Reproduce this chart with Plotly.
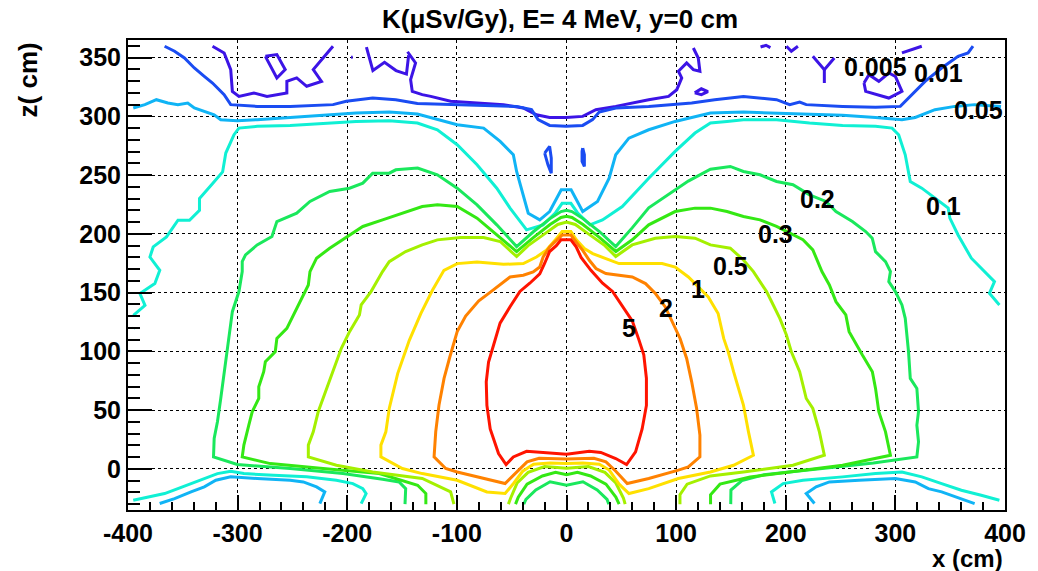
import plotly.graph_objects as go

# Contour levels of K (uSv/Gy) and their line colours
levels = [0.005, 0.01, 0.05, 0.1, 0.2, 0.3, 0.5, 1, 2, 5]
level_colors = ["#3c14e6", "#1a4cf2", "#10b4f5", "#10f0d4", "#1ae85c",
                "#34e814", "#a4f000", "#ffe000", "#ff8200", "#ff1400"]

# ---- contour paths, x (cm) / z (cm) ----
k5_x = [0, 4, 8.8, 13.3, 22.3, 32.9, 42, 51, 60, 66, 70.5, 72.9, 72.9, 69, 63, 54.8, 44.9, 31.3, 20.8, 0,
        -21.4, -36.4, -48.5, -55.1, -62, -69.6, -72.6, -73.2, -71.1, -65.1, -60.6, -51.5, -42.5, -33.5,
        -24.4, -19.9, -15.4, -9.3, -5, 0]
k5_z = [195, 195, 189, 180, 169, 158, 151, 138, 126, 110, 97, 77, 54, 34, 14.5, 3.7, 8.8, 14, 15, 12.5,
        14, 15, 10.2, 3.7, 13, 34, 54, 74, 91, 111, 124, 138, 151, 158, 166, 175, 185, 190, 195, 195]

k2_x = [0, 4, 8.8, 14.8, 20.8, 26.9, 35.9, 47.9, 60, 72.1, 81.1, 90.1, 97.6, 103.6, 109.6, 114.2, 118.7,
        121.7, 121.7, 111.1, 102.1, 75, 55.4, 45, 36, 25, 0, -25, -36, -45, -56, -99.7, -110.2, -120.8,
        -119.3, -116.3, -111.7, -106.5, -99.7, -92, -80, -70, -63.6, -51.5, -39.4, -30.4, -24.4, -21.3,
        -15.4, -9.3, -4, 0]
k2_z = [199, 199, 193.1, 186, 177.5, 170.5, 166.2, 164.8, 163.3, 157.7, 149.2, 137.8, 123.7, 111, 94,
        74.1, 51.4, 28.7, 10.2, 1.7, -1.1, -8.2, -12.5, -2, 6, 9, 8.5, 9, 6, -2, -12.5, -2.6, 0.3, 10.2,
        31.5, 54.3, 77, 95, 116.8, 130, 143, 150, 154.8, 163.3, 164.8, 167.6, 171.8, 180.3, 188.9, 194.6,
        199, 199]

k1_x = [0, -4, -9.3, -18.4, -27.4, -39.4, -57.5, -81.6, -99.7, -111.8, -122.3, -132.9, -143.4, -154,
        -161.7, -164.8, -169.3, -169.3, -149.7, -131.6, -99.7, -72.6, -56, -48, -40, -30, -15, 0, 15, 30,
        39, 48, 57, 75, 102, 131.3, 152.4, 170.5, 166, 161.4, 152.4, 147.4, 143.4, 138.3, 129.3, 120.3,
        111.2, 99.2, 87.2, 69.1, 47.9, 35.9, 23.9, 16.3, 9, 4, 0]
k1_z = [202, 202, 196, 186, 180.3, 174.7, 174.1, 176.1, 174.7, 169, 152, 132.2, 109.4, 81.1, 51.4, 31.5,
        20.2, 10.2, 0.3, -4, -9.7, -19.6, -21, -12, -2, 4, 5, 4.5, 5, 4, -1, -13, -21, -16.8, -8.2, -2.6,
        3.1, 11.6, 31.5, 54.3, 82.7, 100, 111, 132.2, 146.3, 154.8, 163.3, 171.8, 174.7, 174.7, 174.7,
        179, 183.2, 187.5, 195, 202, 202]

k05_x = [-102.7, -105.7, -131.6, -176.8, -209.9, -235.5, -235.5, -231, -226.5, -222, -205.4, -197.9,
         -188.9, -187.3, -178.3, -167.8, -161.7, -146.7, -131.6, -117.8, -96.7, -75.6, -60.5, -45.5, -35,
         -20, -8, 0, 8, 20, 35, 44.9, 59.9, 81, 99.1, 117.2, 131.3, 149.4, 161.4, 170.5, 182.5, 188.6,
         194.6, 200.6, 205.1, 212.7, 218.7, 224.7, 230.7, 235.2, 206.6, 161.4, 131.3, 110, 103.5, 103.5]
k05_z = [-30, -19.6, -8.2, -2.6, 3.1, 10.2, 20.2, 31.5, 48.6, 59.9, 102.6, 116.8, 131, 139.5, 150.9,
         167.9, 176.4, 185, 190.6, 194.9, 196.9, 196.9, 193.5, 180.7, 190, 200, 208, 210, 208, 200, 190,
         180.7, 190.6, 196.3, 197.7, 196.3, 190.6, 187.8, 177.8, 167.9, 150.9, 139.5, 128.1, 113.9, 99.7,
         82.7, 59.9, 51.4, 31.5, 11.6, 3.1, -2.6, -6, -13, -22, -30]
k05h_x = [-53, -51, -45, -35, -20, 0, 20, 35, 45, 52, 53.5]
k05h_z = [-30, -25, -12, -3, 2, 0.5, 2, -3, -12, -25, -30]

k03_x = [-128.3, -128.3, -135.8, -170.8, -222, -270.2, -295.8, -294.3, -289.8, -286.7, -280.7, -280.7,
         -276.2, -274.7, -265.7, -264.2, -255.1, -243.1, -235.5, -234, -228, -216, -197.9, -185.8, -167.8,
         -149.7, -131.6, -117.8, -99.7, -81.6, -63.6, -45.5, -30, -15, -5, 0, 5, 15, 30, 45, 60, 75, 99.1,
         117.2, 131.3, 146.4, 161.4, 176.5, 191.6, 203.6, 215.7, 224.7, 233, 239.8, 245.8, 254.8, 257.8,
         269.9, 279, 281.9, 284.9, 291, 295.5, 251.8, 206.6, 167.5, 140, 131.4, 131.4]
k03_z = [-30, -21, -13.9, -4, 0.3, 4.5, 10.2, 20.2, 37.2, 48.6, 59.9, 69.9, 82.7, 91.2, 99.7, 111, 119.6,
         142.3, 156.5, 167.9, 179.3, 187.8, 199.1, 206.3, 211.9, 217.6, 223.3, 224.7, 223.3, 213.4, 199.1,
         184.9, 197, 208, 214, 215, 214, 208, 197, 185, 195, 207.7, 219, 221.9, 221.9, 219, 214.8, 211.9,
         206.3, 200.6, 195, 186.4, 168, 156.5, 142.3, 131, 116.8, 96.9, 82.7, 68.5, 48.6, 31.5, 11.6, 3.1,
         -2.6, -7, -13, -22, -30]
k03h_x = [-46.5, -44, -36, -22, -10, 0, 10, 22, 36, 45, 48]
k03h_z = [-30, -24, -13, -6, -3, -5, -3, -6, -13, -24, -30]

k02_x = [-147.3, -146.7, -152.7, -167.8, -203.9, -252.1, -300.3, -322, -321.4, -318.4, -315.4, -312.3,
         -307.8, -304.8, -298.8, -295.8, -295.8, -292.8, -282.2, -268.7, -264.2, -246.1, -234, -216,
         -197.9, -185.8, -176.8, -161.7, -155.7, -135.8, -117.8, -99.7, -81.6, -63.6, -45.5, -30, -15, -5,
         0, 5, 15, 30, 44.9, 59.9, 75, 93.1, 111.1, 131.3, 149.4, 161.4, 176.5, 191.6, 206.6, 221.7,
         236.7, 245.8, 260.8, 272.9, 278.9, 281.9, 291, 295.5, 294, 300, 306, 309, 312, 313.6, 319.6,
         321.1, 319.6, 321.1, 319.6, 280, 230, 180, 160, 150, 149.8]
k02_z = [-30, -16.8, -11.1, -8.8, -4, 0.3, 3.7, 10.2, 25.9, 40.1, 59.9, 82.7, 111, 133.8, 150.9, 167.9,
         176.4, 182.1, 190.6, 197.7, 210.5, 217.6, 227.6, 236.1, 238.9, 243.2, 251.7, 251.7, 254.5, 256,
         250.3, 238.9, 224.7, 207.7, 189.2, 202, 213, 219, 220, 219, 213, 202, 189.2, 205.1, 222.2, 233.5,
         244.9, 255, 257.4, 253.1, 250.3, 244.6, 241.8, 233.2, 227.6, 219, 210.5, 202, 196.3, 184.9, 176.4,
         167.9, 159.4, 150.9, 139.5, 128.1, 99.7, 77, 68.5, 48.6, 37.2, 23, 10.2, 5, 0, -5, -10, -18, -30]
k02h_x = [-39, -37, -28, -15, 0, 15, 28, 37, 38.6]
k02h_z = [-30, -26, -18, -11, -14, -11, -18, -26, -30]

k01_x = [-395.1, -384.5, -389.1, -375.5, -371, -380, -377, -364.9, -354.4, -343.9, -334.8, -334.8, -322.8,
         -313.7, -310.8, -303.3, -298.8, -282.2, -252.1, -222, -191.9, -161.7, -136, -117.8, -99.7, -81.6,
         -63.6, -51.5, -36.4, -21.4, -10, -4, 4, 10, 21.4, 32.8, 50.9, 75, 99.1, 117.2, 131.3, 146.4,
         161.4, 191.6, 221.7, 251.8, 281.9, 297, 303, 309, 313.6, 324.1, 336.1, 348.2, 349.7, 357.2,
         369.3, 383, 390.4, 385.8, 394.9]
k01_z = [130.7, 139.2, 149.2, 157.7, 169, 180.3, 188.9, 197.4, 211.6, 211.6, 220.1, 230, 242.8, 252.7,
         268.8, 284.4, 290, 291.5, 292.3, 294.3, 295.7, 296.3, 294.3, 288.6, 275.9, 258.8, 238.9, 221.9,
         203.4, 207.7, 218, 226, 226, 218, 207.7, 211.9, 223.3, 247.4, 270.2, 285.8, 294.3, 295.7, 297.2,
         297.2, 294.3, 292.3, 291.5, 290, 284.4, 267.3, 244.6, 238.9, 230.4, 221.9, 213.4, 199.1, 179.3,
         166, 159.4, 149.4, 139.5]
k01dot_x = [-395.1, -394.5]
k01dot_z = [119.4, 120.2]
k01L_x = [-395.2, -381.6, -366.6, -354.5, -342.5, -330.4, -318.4, -306.3, -294.3, -267.2, -237, -209.9,
          -194.9, -185.8, -182.8, -187.3]
k01L_z = [-26.7, -23.9, -21, -16.8, -12.5, -8.2, -4, -2, -4, -5.4, -6.8, -9.7, -12.5, -16.8, -21, -29.5]
k01R_x = [190.1, 187, 197.6, 215.7, 251.8, 281.9, 306, 324.1, 342.2, 360.2, 378.3, 394.9]
k01R_z = [-29.5, -19.6, -12.5, -9.7, -6.8, -4, -2.6, -6.8, -12.5, -18.2, -22.4, -26.7]

k005_x = [-395.2, -384.6, -374.1, -363.6, -354.5, -345.5, -339.5, -330.4, -321.4, -315.4, -300.3,
          -282.2, -258.1, -237, -209.9, -191.9, -161.7, -136, -99.7, -75.6, -60.5, -48.5, -45.5, -39.5,
          -34.9, -24.4, -15.4, -4.8, 4.2, 14.8, 28.3, 38.9, 44.9, 56.9, 75, 99.1, 131.3, 161.4, 191.6,
          221.7, 251.8, 281.9, 306, 318.1, 336.1, 354.2, 372.3, 396.4]
k005_z = [307.1, 310, 314.2, 311.4, 310, 311.4, 307.1, 304.3, 301.4, 297.2, 296.3, 297.2, 298.6, 300,
          301.4, 302.8, 303.7, 302, 292.9, 290, 278.7, 267.3, 253.1, 233.2, 217.6, 211.9, 219, 237.5,
          237.5, 219, 227.6, 247.4, 267.3, 281.5, 288.6, 295.7, 302.8, 303.7, 302.8, 302, 300.9, 299.1,
          297.2, 299.1, 305.7, 308.5, 310, 308.5]
k005L_x = [-371.1, -357.5, -342.5, -330.4, -319.9, -306.3, -282.2, -252.1, -240.1, -228, -220.5, -225]
k005L_z = [-29.5, -25.3, -19.6, -15.3, -9.7, -6.8, -8.2, -9.7, -11.1, -15.3, -19.6, -29.5]
k005R_x = [226.2, 218.7, 227.7, 239.8, 266.9, 300, 318.1, 330.1, 342.2, 360.2, 372.3]
k005R_z = [-29.5, -21, -15.3, -11.1, -9.7, -8.2, -11.1, -16.8, -19.6, -25.3, -29.5]

k001_x = [-366.6, -357.5, -348.5, -339.5, -330.4, -322.9, -312.3, -306.3, -282.2, -252.1, -213, -200.9,
          -176.8, -155.7, -136, -105.7, -45.5, -31.9, -25.9, -15.4, -0.3, 14.8, 23.8, 29.8, 44.9, 75,
          99.1, 114.2, 135.2, 161.4, 191.6, 203.6, 212.7, 218.7, 251.8, 281.9, 304.5, 315.1, 327.1,
          342.2, 357.2, 366.3, 370.8]
k001_z = [359.7, 355.4, 349.7, 341.2, 334.1, 328.4, 318.5, 310, 308.5, 308.5, 310, 312.8, 315.6, 314.2,
          311, 310, 308.5, 305.7, 297.2, 292.3, 291.5, 292.3, 297.2, 303.7, 307.1, 308.5, 310, 311.4,
          314.2, 317, 314.2, 310, 312.2, 310, 308.5, 307.7, 308.5, 318.5, 329.8, 341.2, 351.1, 354, 359.7]
k001a_x = [-19.9, -15.4, -13.9, -13.9, -16.9, -19.9]
k001a_z = [268.8, 274.4, 264.5, 251.7, 258.8, 268.8]
k001b_x = [14.8, 16.3, 16.3, 14.2, 14.2, 14.8]
k001b_z = [273, 267.3, 257.4, 261.6, 270.2, 273]

k0005a_x = [-322.9, -312.3, -306.3, -304.8, -298.8, -285.2, -273.2, -255.1, -255.1, -246.1, -237,
            -223.5, -231, -222, -213]
k0005a_z = [359.7, 354, 339.8, 321.3, 317, 319.9, 317, 319.9, 329.8, 332.7, 325.6, 329.8, 339.8, 349.7,
            359.7]
k0005b_x = [-274.7, -264.2, -256.6, -264.2, -274.7]
k0005b_z = [351.1, 352.6, 339.8, 332.7, 351.1]
k0005c_x = [-196.5, -195]
k0005c_z = [350.3, 350.3]
k0005d_x = [-182.5, -176.6, -166, -155.5, -146, -144]
k0005d_z = [359, 339, 346, 339, 336, 352]
k0005e_x = [-145, -137.7, -142.2, -140.7, -131.6, -123.8, -105.7, -75.6, -57.5, -39.5, -27.4, -15.4,
            -0.3, 14.8, 26.8, 44.9, 59.9, 75, 93.1, 100.6, 105.1, 102.1, 109.6, 115.7, 121.7, 120.2,
            115.7]
k0005e_z = [355, 345.5, 331.3, 321.3, 318.5, 317, 312.8, 311.4, 310, 307.1, 301.4, 299.1, 299.1, 300,
            305.7, 308.5, 311.4, 314.2, 317, 322.7, 332.7, 338.4, 345.5, 339.8, 338.4, 349.7, 358.2]
k0005f_x = [117, 123, 129, 123, 117]
k0005f_z = [320, 323.5, 321, 318.5, 320]
k0005g_x = [177, 182, 186]
k0005g_z = [359, 360.5, 358.5]
k0005h_x = [200.6, 205.1, 211.1]
k0005h_z = [359.7, 355.4, 359.7]
k0005i_x = [224.7, 235.2, 244.3]
k0005i_z = [351.1, 339.8, 349.7]
k0005j_x = [235.2, 235.2]
k0005j_z = [339.8, 328.4]
k0005k_x = [271.4, 272.9, 294, 306, 300, 294, 284.9, 275.9, 271.4]
k0005k_z = [328.4, 321.3, 315.6, 321.3, 334.1, 336.9, 329.8, 335.5, 328.4]
k0005l_x = [306, 324.1]
k0005l_z = [354, 359.7]

pieces = [
    (0.005, k0005a_x, k0005a_z), (0.005, k0005b_x, k0005b_z), (0.005, k0005c_x, k0005c_z),
    (0.005, k0005d_x, k0005d_z), (0.005, k0005e_x, k0005e_z), (0.005, k0005f_x, k0005f_z),
    (0.005, k0005g_x, k0005g_z), (0.005, k0005h_x, k0005h_z), (0.005, k0005i_x, k0005i_z),
    (0.005, k0005j_x, k0005j_z), (0.005, k0005k_x, k0005k_z), (0.005, k0005l_x, k0005l_z),
    (0.01, k001_x, k001_z), (0.01, k001a_x, k001a_z), (0.01, k001b_x, k001b_z),
    (0.05, k005_x, k005_z), (0.05, k005L_x, k005L_z), (0.05, k005R_x, k005R_z),
    (0.1, k01_x, k01_z), (0.1, k01dot_x, k01dot_z), (0.1, k01L_x, k01L_z), (0.1, k01R_x, k01R_z),
    (0.2, k02_x, k02_z), (0.2, k02h_x, k02h_z),
    (0.3, k03_x, k03_z), (0.3, k03h_x, k03h_z),
    (0.5, k05_x, k05_z), (0.5, k05h_x, k05h_z),
    (1, k1_x, k1_z), (2, k2_x, k2_z), (5, k5_x, k5_z),
]

# Level labels placed along the contours
label_text = ["0.005", "0.01", "0.05", "0.1", "0.2", "0.3", "0.5", "1", "2", "5"]
label_x = [281.6, 339.5, 375.7, 344.0, 228.8, 191.1, 149.7, 120.3, 90.9, 57.0]
label_z = [342.2, 336.7, 305.4, 223.9, 229.6, 199.8, 172.9, 152.9, 137.1, 120.1]

x_ticks = [-400, -300, -200, -100, 0, 100, 200, 300, 400]
z_ticks = [0, 50, 100, 150, 200, 250, 300, 350]

FONT = "Liberation Sans, Arial, Helvetica, sans-serif"
color_of = dict(zip(levels, level_colors))

fig = go.Figure()
for lev, xs, zs in pieces:
    fig.add_trace(go.Scatter(x=xs, y=zs, mode="lines", showlegend=False, hoverinfo="skip",
                             line=dict(color=color_of[lev], width=3)))

for t, lx, lz in zip(label_text, label_x, label_z):
    fig.add_annotation(x=lx, y=lz, text=t, showarrow=False, xanchor="center", yanchor="middle",
                       font=dict(family=FONT, size=25, color="black", weight="bold"))

axis_common = dict(showline=True, linecolor="black", linewidth=2, mirror=True,
                   showgrid=True, gridcolor="black", gridwidth=1, griddash="dot",
                   zeroline=False, ticks="inside", tickcolor="black", tickwidth=1.5,
                   tickfont=dict(family=FONT, size=25, color="black", weight="bold"))

fig.update_xaxes(range=[-400, 400], tickvals=x_ticks, ticktext=[str(v) for v in x_ticks],
                 ticklen=15, minor=dict(ticks="inside", ticklen=8, dtick=20, tickcolor="black",
                                        showgrid=False),
                 **axis_common)
fig.update_yaxes(range=[-35, 365], tickvals=z_ticks, ticktext=[str(v) for v in z_ticks],
                 ticklen=24, minor=dict(ticks="inside", ticklen=12, dtick=10, tickcolor="black",
                                        showgrid=False),
                 **axis_common)

fig.add_annotation(text="z( cm)", xref="paper", yref="paper", x=(27 - 128) / 885, y=1.0,
                   textangle=-90, showarrow=False, xanchor="center", yanchor="top",
                   font=dict(family=FONT, size=26, color="black", weight="bold"))
fig.add_annotation(text="x (cm)", xref="paper", yref="paper", x=1.0, y=(510 - 558) / 470,
                   showarrow=False, xanchor="right", yanchor="middle",
                   font=dict(family=FONT, size=24, color="black", weight="bold"))

fig.update_layout(
    width=1038, height=571,
    margin=dict(l=128, r=25, t=40, b=61),
    paper_bgcolor="white", plot_bgcolor="white",
    title=dict(text="K(\u03bcSv/Gy), E= 4 MeV, y=0 cm", x=560 / 1038, xanchor="center",
               y=1 - 19 / 571, yanchor="middle",
               font=dict(family=FONT, size=26, color="black", weight="bold")),
)

fig.write_html("out.html")
